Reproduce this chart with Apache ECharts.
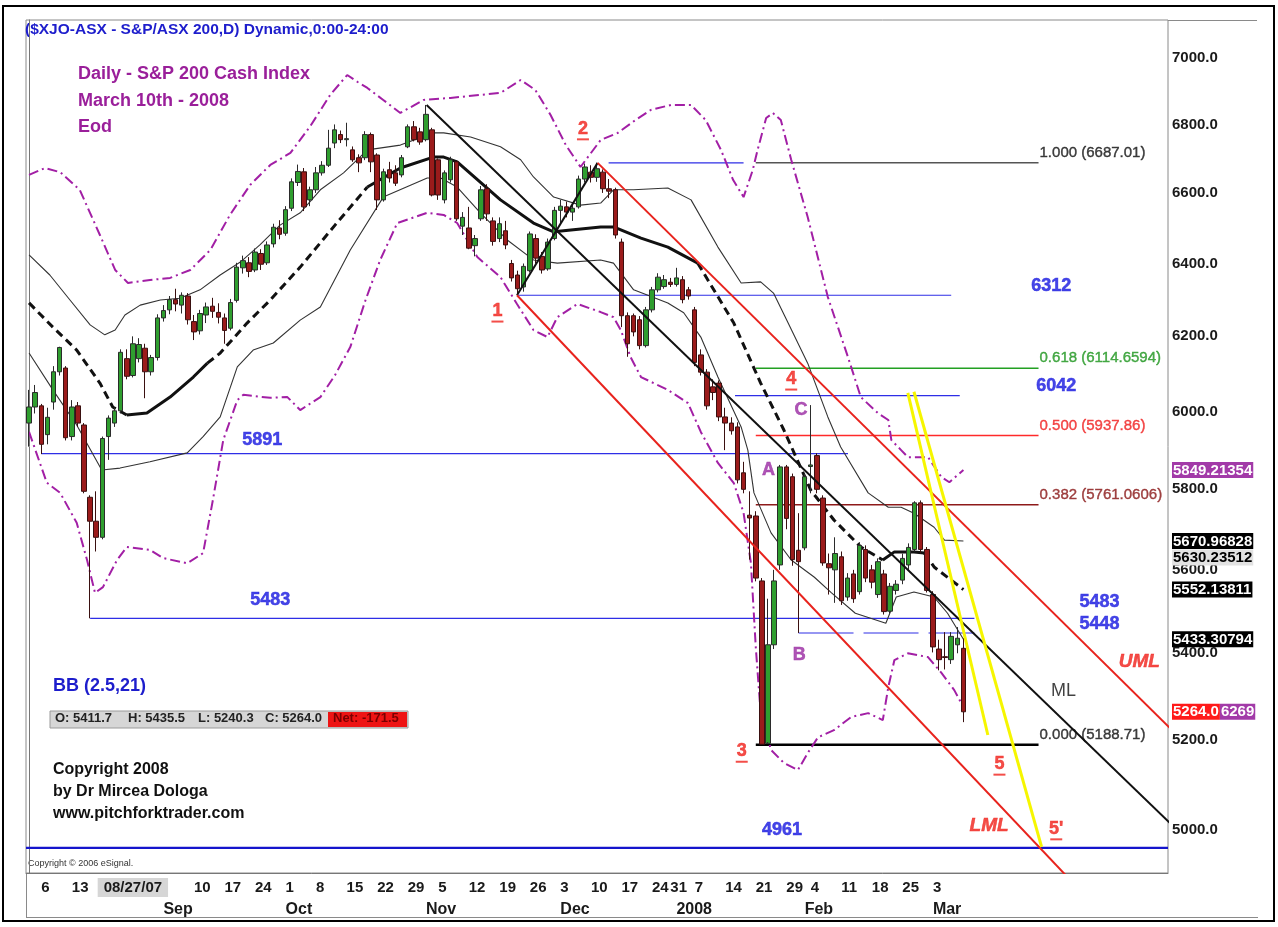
<!DOCTYPE html>
<html><head><meta charset="utf-8">
<script src="https://cdn.jsdelivr.net/npm/echarts@6/dist/echarts.min.js"></script>
<style>html,body{margin:0;padding:0;background:#fff}#c{width:1278px;height:927px}</style>
</head><body><div id="c"></div>
<script>
// ---------------- DATA ----------------
const tradingDates = [
'2007-08-02','2007-08-03','2007-08-06','2007-08-07','2007-08-08','2007-08-09','2007-08-10','2007-08-13','2007-08-14','2007-08-15','2007-08-16','2007-08-17','2007-08-20','2007-08-21','2007-08-22','2007-08-23','2007-08-24','2007-08-27','2007-08-28','2007-08-29','2007-08-30','2007-08-31',
'2007-09-03','2007-09-04','2007-09-05','2007-09-06','2007-09-07','2007-09-10','2007-09-11','2007-09-12','2007-09-13','2007-09-14','2007-09-17','2007-09-18','2007-09-19','2007-09-20','2007-09-21','2007-09-24','2007-09-25','2007-09-26','2007-09-27','2007-09-28',
'2007-10-01','2007-10-02','2007-10-03','2007-10-04','2007-10-05','2007-10-08','2007-10-09','2007-10-10','2007-10-11','2007-10-12','2007-10-15','2007-10-16','2007-10-17','2007-10-18','2007-10-19','2007-10-22','2007-10-23','2007-10-24','2007-10-25','2007-10-26','2007-10-29','2007-10-30','2007-10-31',
'2007-11-01','2007-11-02','2007-11-05','2007-11-06','2007-11-07','2007-11-08','2007-11-09','2007-11-12','2007-11-13','2007-11-14','2007-11-15','2007-11-16','2007-11-19','2007-11-20','2007-11-21','2007-11-22','2007-11-23','2007-11-26','2007-11-27','2007-11-28','2007-11-29','2007-11-30',
'2007-12-03','2007-12-04','2007-12-05','2007-12-06','2007-12-07','2007-12-10','2007-12-11','2007-12-12','2007-12-13','2007-12-14','2007-12-17','2007-12-18','2007-12-19','2007-12-20','2007-12-21','2007-12-24','2007-12-27','2007-12-28','2007-12-31',
'2008-01-02','2008-01-03','2008-01-04','2008-01-07','2008-01-08','2008-01-09','2008-01-10','2008-01-11','2008-01-14','2008-01-15','2008-01-16','2008-01-17','2008-01-18','2008-01-21','2008-01-22','2008-01-23','2008-01-24','2008-01-25','2008-01-29','2008-01-30','2008-01-31',
'2008-02-01','2008-02-04','2008-02-05','2008-02-06','2008-02-07','2008-02-08','2008-02-11','2008-02-12','2008-02-13','2008-02-14','2008-02-15','2008-02-18','2008-02-19','2008-02-20','2008-02-21','2008-02-22','2008-02-25','2008-02-26','2008-02-27','2008-02-28','2008-02-29',
'2008-03-03','2008-03-04','2008-03-05','2008-03-06','2008-03-07','2008-03-10'];
const futureDates = [
'2008-03-11','2008-03-12','2008-03-13','2008-03-14','2008-03-17','2008-03-18','2008-03-19','2008-03-20','2008-03-25','2008-03-26','2008-03-27','2008-03-28','2008-03-31',
'2008-04-01','2008-04-02','2008-04-03','2008-04-04','2008-04-07','2008-04-08','2008-04-09','2008-04-10','2008-04-11','2008-04-14','2008-04-15','2008-04-16','2008-04-17','2008-04-18','2008-04-21','2008-04-22','2008-04-23','2008-04-24','2008-04-28','2008-04-29'];

// [open, high, low, close]
const ohlc = [
[5970,6057,5909,6012],[6012,6070,5995,6050],[6015,6020,5890,5915],[5940,6010,5915,5985],[6025,6120,6005,6105],[6105,6172,6095,6170],[6115,6120,5925,5932],[5935,6030,5925,6012],[6015,6025,5960,5970],[5965,5970,5790,5795],[5780,5785,5483,5720],[5720,5795,5645,5680],[5680,5935,5675,5930],[5935,5990,5875,5983],[5970,6010,5960,6002],[6002,6165,5995,6157],[6140,6165,6085,6093],[6095,6200,6090,6180],[6140,6195,6130,6178],[6168,6180,6035,6105],[6105,6150,6095,6143],[6143,6260,6135,6250],
[6250,6285,6240,6270],[6272,6310,6260,6300],[6300,6330,6268,6288],[6285,6320,6262,6312],[6310,6318,6232,6245],[6240,6258,6190,6212],[6215,6272,6205,6262],[6258,6292,6236,6280],[6282,6305,6250,6268],[6265,6290,6235,6252],[6250,6262,6180,6216],[6222,6302,6216,6292],[6298,6402,6292,6390],[6388,6422,6372,6408],[6402,6418,6362,6378],[6382,6442,6376,6432],[6428,6440,6382,6398],[6402,6462,6396,6452],[6455,6512,6445,6502],[6500,6522,6468,6482],
[6485,6562,6478,6552],[6556,6642,6548,6632],[6630,6682,6620,6662],[6661,6672,6548,6560],[6580,6618,6562,6609],[6609,6675,6600,6658],[6658,6692,6650,6680],[6680,6784,6675,6730],[6745,6800,6730,6784],[6770,6782,6745,6755],[6755,6805,6735,6758],[6725,6735,6690,6696],[6702,6712,6660,6687],[6702,6780,6695,6770],[6770,6776,6660,6690],[6710,6715,6551,6580],[6580,6670,6575,6661],[6667,6690,6630,6643],[6658,6680,6620,6628],[6652,6710,6645,6702],[6734,6800,6730,6793],[6793,6810,6750,6755],[6778,6790,6740,6748],
[6755,6858,6750,6830],[6784,6790,6590,6594],[6696,6700,6580,6594],[6580,6665,6570,6658],[6638,6705,6630,6696],[6690,6695,6520,6526],[6505,6545,6480,6530],[6500,6560,6440,6443],[6450,6480,6420,6470],[6526,6620,6520,6609],[6612,6625,6520,6540],[6520,6530,6450,6462],[6470,6530,6460,6512],[6492,6520,6440,6452],[6400,6410,6350,6360],[6368,6380,6312,6330],[6335,6400,6322,6392],[6380,6490,6375,6483],[6470,6482,6400,6415],[6420,6432,6372,6382],[6385,6470,6380,6460],[6470,6560,6465,6550],
[6550,6580,6512,6562],[6560,6575,6530,6545],[6545,6572,6520,6556],[6560,6650,6555,6640],[6640,6685,6630,6675],[6660,6680,6630,6645],[6645,6687,6632,6670],[6660,6668,6600,6612],[6612,6640,6585,6605],[6609,6615,6470,6480],[6460,6470,6225,6256],[6256,6265,6145,6180],[6256,6262,6200,6212],[6245,6255,6165,6175],[6175,6280,6170,6272],[6272,6335,6265,6327],[6327,6373,6320,6362],[6336,6368,6330,6355],[6348,6360,6335,6342],
[6342,6388,6336,6360],[6355,6365,6290,6300],[6327,6335,6300,6310],[6272,6280,6120,6130],[6150,6165,6095,6104],[6104,6112,6005,6015],[6065,6085,6030,6050],[6075,6082,5975,5986],[5986,6010,5900,5970],[5970,5985,5940,5950],[5960,5972,5815,5824],[5842,5870,5790,5800],[5735,5795,5625,5728],[5733,5745,5572,5580],[5573,5580,5188.71,5190],[5192,5530,5195,5420],[5420,5600,5410,5573],[5612,5862,5600,5857],[5857,5862,5700,5727],[5832,5840,5610,5625],[5648,5740,5448,5620],
[5654,5840,5648,5832],[5858,6017,5790,5862],[5886,5892,5790,5800],[5778,5785,5610,5617],[5615,5640,5540,5605],[5600,5680,5520,5640],[5632,5645,5515,5525],[5534,5592,5525,5580],[5590,5600,5520,5530],[5547,5668,5540,5660],[5650,5660,5570,5580],[5600,5612,5555,5570],[5540,5628,5532,5620],[5590,5600,5492,5499],[5500,5568,5495,5560],[5550,5575,5540,5565],[5575,5640,5565,5628],[5612,5665,5600,5655],[5650,5770,5645,5766],[5766,5772,5640,5650],[5650,5656,5545,5550],
[5540,5548,5402,5415],[5410,5432,5360,5385],[5392,5450,5362,5390],[5385,5450,5375,5440],[5420,5462,5400,5435.5],[5411.7,5435.5,5240.3,5264.0]];

const yTicks = [5000,5200,5400,5600,5800,6000,6200,6400,6600,6800,7000];
const dayTickDates = ['2007-08-06','2007-08-13','2007-09-10','2007-09-17','2007-09-24','2007-10-01','2007-10-08','2007-10-15','2007-10-22','2007-10-29','2007-11-05','2007-11-12','2007-11-19','2007-11-26','2007-12-03','2007-12-10','2007-12-17','2007-12-24','2007-12-31','2008-01-07','2008-01-14','2008-01-21','2008-01-29','2008-02-04','2008-02-11','2008-02-18','2008-02-25','2008-03-03'];
const monthTickDates = ['2007-09-03','2007-10-01','2007-11-01','2007-12-03','2008-01-02','2008-02-01','2008-03-03'];
const monthTickNames = ['Sep','Oct','Nov','Dec','2008','Feb','Mar'];
const cursorDate = '2007-08-27', cursorText = '08/27/07';

// indicator lines: [bar index, price]
const upperBB = [[0,6652],[2.6,6672],[5.1,6660],[8.3,6609],[11.6,6480],[14.1,6382],[16.2,6346],[19.8,6354],[23.1,6360],[26.4,6382],[29.7,6438],[32.9,6537],[36.2,6623],[39.5,6681],[42.8,6716],[46.1,6796],[49.3,6888],[52.1,6948],[53.8,6927],[55.4,6909],[58,6873],[60.8,6834],[64.6,6873],[69,6879],[73.9,6888],[77.2,6894],[80.5,6933],[82.9,6903],[85.4,6828],[87.9,6739],[90.3,6675],[93.6,6754],[96.4,6775],[99.3,6813],[101.8,6843],[105.1,6858],[108.4,6858],[110.8,6813],[113.3,6725],[115.3,6637],[117,6588],[118.5,6666],[119.3,6725],[120.7,6819],[121.8,6834],[123.1,6813],[124.8,6696],[127.5,6531],[130.8,6307],[134.1,6144],[136.2,6038],[139,5996],[140.7,5978],[141.2,5926],[142.8,5900],[143.9,5882],[147.2,5882],[149.4,5831],[150.7,5818],[153,5849.2]];
const lowerBB = [[0,5947],[2.9,5817],[5.1,5791],[7.8,5716],[9.5,5624],[10.8,5544],[12.1,5558],[14.4,5624],[16,5656],[19.8,5649],[21.9,5629],[25.9,5616],[28.5,5641],[30.1,5773],[31.8,5926],[34.1,6030],[35.1,6044],[39.5,6036],[42.3,6038],[44.4,6004],[47.7,6038],[50.1,6096],[52.6,6171],[55.1,6299],[57.5,6410],[60.3,6514],[65.2,6543],[67.9,6537],[70.1,6514],[73.4,6418],[77.2,6362],[79.9,6288],[82.6,6217],[84.9,6198],[86.5,6252],[89.8,6288],[93.6,6266],[95.7,6252],[96.9,6217],[98.5,6144],[100.2,6091],[104.6,6057],[107.9,6022],[110,5947],[112.8,5867],[115.4,5816],[117,5741],[118.2,5617],[119,5414],[119.8,5261],[121.5,5177],[123.6,5148],[125.9,5132],[127.5,5170],[129.2,5206],[131.8,5222],[134.6,5252],[137.4,5261],[139.8,5245],[140.7,5321],[141.7,5384],[143.9,5400],[147.2,5391],[149.4,5354],[151.5,5314],[153,5275]];
const upperBand = [[0,6424],[3.4,6368],[6.7,6299],[10,6231],[12.4,6204],[14.1,6217],[15.7,6258],[18.2,6285],[21.5,6299],[24.7,6304],[28,6327],[31.3,6368],[34.6,6404],[37.8,6452],[41.1,6508],[44.4,6543],[47.7,6609],[51.5,6658],[55.4,6725],[60.8,6739],[66.2,6775],[67.9,6775],[72.3,6763],[77.2,6734],[80.5,6696],[82.6,6646],[85.9,6588],[90.3,6565],[93.6,6571],[95.7,6609],[99,6609],[104.6,6614],[108.4,6580],[112.8,6446],[116.6,6346],[119.8,6349],[121.9,6318],[124.3,6236],[127.5,6128],[130.8,5986],[132.9,5908],[137.4,5791],[140.7,5755],[142.8,5755],[144.9,5740],[148.2,5705],[149.9,5673],[153,5670.97]];
const lowerBand = [[0,6155],[3.9,6057],[7.8,5965],[11.9,5849],[14.9,5854],[19.8,5870],[25.9,5893],[28.5,5935],[31.3,5986],[34.1,6118],[36.7,6163],[40,6182],[44.4,6244],[47.7,6280],[52.6,6438],[58,6588],[65.2,6643],[67.4,6643],[70.1,6617],[73.9,6543],[78.3,6466],[82.6,6410],[86.5,6401],[93.6,6410],[95.7,6401],[99,6327],[104.6,6291],[107.2,6264],[110,6198],[112.8,6091],[116.6,5960],[117.7,5900],[118.7,5791],[121.5,5691],[124.8,5624],[128.6,5582],[131.4,5544],[135.3,5495],[140.3,5471],[142,5534],[144.9,5546],[148.2,5534],[150.4,5495],[153,5433.31]];
const midAverage = [[0,6291],[3.9,6225],[7.8,6163],[11.6,6075],[13.7,6012],[16,5991],[19.3,5996],[23.1,6038],[26.9,6091],[29.2,6128],[31.3,6155],[35.7,6236],[39.5,6299],[44.4,6390],[50.1,6508],[55.4,6617],[60.8,6672],[66.2,6704],[67.9,6704],[70.1,6690],[77.2,6580],[82.6,6514],[85.9,6489],[93.6,6503],[95.7,6503],[100.2,6471],[104.6,6446],[109.5,6401],[115.4,6236],[119.8,6075],[123.6,5952],[128,5798],[131.8,5723],[136.2,5656],[139.8,5624],[141.7,5644],[144.9,5644],[146.6,5641],[148.2,5607],[153,5552.14]];
const midSolidRanges = [[16,29.2],[55.4,109.5],[139.8,146.6]];
const midDashedRanges = [[0,16],[29.2,55.4],[109.5,139.8],[146.6,153]];

// horizontal levels: [price, from bar, to bar]
const blueLevels = [[5891,2,134.1],[5483,10,154.8],[6312,79.9,151],[6042,115.6,152.4],[6687.01,94.9,117]];
const dashedLevel = [5448,126,154.8];
const floorLevel = [4961,-0.5,186.5];
const fibLabels = ['1.000 (6687.01)','0.618 (6114.6594)','0.500 (5937.86)','0.382 (5761.0606)','0.000 (5188.71)'];
const fibValues = [6687.01,6114.6594,5937.86,5761.0606,5188.71];
const fibSpan = [119,165.3];

// pitchfork & trend lines: [[bar, price],[bar, price]]
const handleLine = [[79.9,6312],[93.1,6687.01]];
const upperMedianLine = [[93.1,6687.01],[187.1,5223]];
const lowerMedianLine = [[79.9,6312],[171,4885]];
const medianLine = [[65.1,6858],[187.1,5011]];
const yellowLine1 = [[143.9,6049],[157.0,5211]];
const yellowLine2 = [[144.9,6052],[165.8,4963]];

// annotations: [text, bar, price, kind]
const annotations = [
 ['1',76.7,6266,'pivot'],['2',90.7,6784,'pivot'],['3',116.7,5172,'pivot'],['4',124.8,6083,'pivot'],['5',158.9,5143,'pivot'],["5'",168.2,5000,'pivot'],
 ['A',121.1,5849,'abc'],['B',126.1,5396,'abc'],['C',126.4,6004,'abc'],
 ['5891',38.2,5926,'level'],['5483',39.5,5527,'level'],['6312',167.4,6338,'level'],['6042',168.2,6068,'level'],['5483',175.3,5522,'level'],['5448',175.3,5469,'level'],['4961',123.3,5000,'level'],
 ['UML',181.8,5380,'fork'],['LML',157.2,5008,'fork'],['ML',169.4,5312,'ml']];

// price flags on the right axis
const flagValues = [5849.21354,5670.96828,5630.23512,5552.13811,5433.30794,5264.0];
const flagTexts = ['5849.21354','5670.96828','5630.23512','5552.13811','5433.30794','5264.0'];
const flagKinds = ['purple','black','gray','black','black','red'];
const flagSuffix = ['','','','','','6269'];

// ---------------- CHART ----------------
const F = 'Arial, "Liberation Sans", Helvetica, sans-serif';
const cats = tradingDates.concat(futureDates);
const N = cats.length;
const daySet = new Set(dayTickDates);
const monthMap = {}; monthTickDates.forEach((d,i)=>monthMap[d]=monthTickNames[i]);

const chart = echarts.init(document.getElementById('c'));
const series = [];

series.push({
  type:'candlestick', xAxisIndex:0, yAxisIndex:0, barWidth:5,
  data: ohlc.map(r=>[r[0],r[3],r[2],r[1]]),
  itemStyle:{color:'#2f9e2f', color0:'#9b1b1b', borderColor:'#2b2b2b', borderColor0:'#3a1010', borderWidth:1},
  z:5
});

function lineSeries(data, style, z){
  return {type:'line', xAxisIndex:3, yAxisIndex:0, data, symbol:'none', silent:true, lineStyle:style, z:z||3, animation:false};
}
const purple = '#a21fa5';
series.push(lineSeries(upperBB,{color:purple,width:2,type:[10,4,2,4]},4));
series.push(lineSeries(lowerBB,{color:purple,width:2,type:[10,4,2,4]},4));
series.push(lineSeries(upperBand,{color:'#333',width:1.1},4));
series.push(lineSeries(lowerBand,{color:'#333',width:1.1},4));
function seg(r){ return midAverage.filter(p=>p[0]>=r[0]-1e-9 && p[0]<=r[1]+1e-9); }
midSolidRanges.forEach(r=>series.push(lineSeries(seg(r),{color:'#111',width:3},4)));
midDashedRanges.forEach(r=>series.push(lineSeries(seg(r),{color:'#111',width:3,type:[8,5]},4)));

blueLevels.forEach(l=>series.push(lineSeries([[l[1],l[0]],[l[2],l[0]]],{color:'#2e2ee6',width:1.2},3)));
series.push(lineSeries([[dashedLevel[1],dashedLevel[0]],[dashedLevel[2],dashedLevel[0]]],{color:'#2e2ee6',width:1.2,type:[55,10]},3));
series.push(lineSeries([[floorLevel[1],floorLevel[0]],[floorLevel[2],floorLevel[0]]],{color:'#1515cc',width:2.2},3));
const fibColors = ['#555555','#22a022','#ff2a2a','#8e1a1a','#000000'];
const fibTextColors = ['#111111','#1f961f','#f02020','#8a1616','#111111'];
const fibWidths = [1.5,1.5,1.5,1.5,2.5];
fibValues.forEach((v,i)=>series.push(lineSeries([[fibSpan[0],v],[fibSpan[1],v]],{color:fibColors[i],width:fibWidths[i]},3)));

series.push(lineSeries(handleLine,{color:'#111',width:2},6));
series.push(lineSeries(medianLine,{color:'#111',width:2},6));
series.push(lineSeries(upperMedianLine,{color:'#e8231d',width:2},6));
series.push(lineSeries(lowerMedianLine,{color:'#e8231d',width:2},6));
series.push(lineSeries(yellowLine1,{color:'#f6f600',width:3},6));
series.push(lineSeries(yellowLine2,{color:'#f6f600',width:3},6));

// fib labels
series.push({type:'scatter', xAxisIndex:3, yAxisIndex:0, symbolSize:0, silent:true, z:8,
  data: fibValues.map((v,i)=>({value:[fibSpan[1],v], name:fibLabels[i],
    label:{show:true, position:'right', distance:1, offset:[0,-10], formatter:'{b}', color:fibTextColors[i],
      textBorderColor:fibTextColors[i], textBorderWidth:0.4, fontFamily:F, fontSize:15}}))});

// annotations
function txt(color, size, extra){ return Object.assign({show:true, position:'inside', color, fontSize:size, fontWeight:'bold', fontFamily:F, textBorderColor:color, textBorderWidth:0.5}, extra||{}); }
const annoStyle = {
  pivot: t=>({show:true, position:'inside', formatter:`{t|${t}}\n{u|}`, rich:{t:{fontSize:18,fontWeight:'bold',color:'#f0201a',fontFamily:F,lineHeight:19,textBorderColor:'#f0201a',textBorderWidth:0.5},u:{width:12,height:2,backgroundColor:'#f0201a'}}}),
  abc: t=>txt('#9a2aa3',18,{formatter:t}),
  level: t=>txt('#1616e0',18,{formatter:t}),
  fork: t=>txt('#f0201a',19,{formatter:t, fontStyle:'italic'}),
  ml: t=>({show:true, position:'inside', formatter:t, fontSize:18, color:'#111', fontFamily:F})
};
series.push({type:'scatter', xAxisIndex:3, yAxisIndex:0, symbolSize:0, silent:true, z:9,
  data: annotations.map(a=>({value:[a[1],a[2]], label:annoStyle[a[3]](a[0])}))});

// right axis flag styles
const flagRich = {
  purple:{backgroundColor:'#a23aa8', color:'#fff'},
  black:{backgroundColor:'#000', color:'#fff'},
  gray:{backgroundColor:'#e2e2e2', color:'#000'},
  red:{backgroundColor:'#ff1a1a', color:'#fff'},
  sfx:{backgroundColor:'#a23aa8', color:'#fff'}
};
Object.keys(flagRich).forEach(k=>Object.assign(flagRich[k],{fontFamily:F,fontSize:15,fontWeight:'bold',padding:[1,1,0,1],lineHeight:17}));
function flagFormatter(v){
  let best=-1, bd=Infinity;
  flagValues.forEach((f,i)=>{const d=Math.abs(f-v); if(d<bd){bd=d;best=i;}});
  if(best<0 || bd>0.5) return '';
  const k = flagKinds[best];
  return `{${k}|${flagTexts[best]}}` + (flagSuffix[best] ? `{sfx|${flagSuffix[best]}}` : '');
}

const last = ohlc[ohlc.length-1], prevClose = ohlc[ohlc.length-2][3];
const netText = 'Net: ' + (last[3]-prevClose).toFixed(1);

const option = {
  animation:false,
  backgroundColor:'#fff',
  grid:{left:26, right:110, top:20, bottom:54, show:true, borderColor:'#8a8a8a', borderWidth:1, containLabel:false},
  xAxis:[
    {type:'category', data:cats, boundaryGap:true, position:'bottom', axisLine:{show:true,lineStyle:{color:'#777'}}, axisTick:{show:false}, splitLine:{show:false},
     axisLabel:{interval:(i,v)=>daySet.has(v), formatter:v=>String(+v.slice(8)), align:'left', margin:7, fontFamily:F, fontSize:15, fontWeight:'bold', color:'#1a1a1a'}},
    {type:'category', data:cats, boundaryGap:true, position:'bottom', offset:22, axisLine:{show:false}, axisTick:{show:false},
     axisLabel:{interval:(i,v)=>v in monthMap, formatter:v=>monthMap[v]||'', align:'left', margin:7, fontFamily:F, fontSize:16, fontWeight:'bold', color:'#1a1a1a'}},
    {type:'category', data:cats, boundaryGap:true, position:'bottom', axisLine:{show:false}, axisTick:{show:false},
     axisLabel:{interval:(i,v)=>v===cursorDate, formatter:()=>'{c|'+cursorText+'}', margin:5, rich:{c:{backgroundColor:'#d6d6d6', padding:[2,6,2,6], fontFamily:F, fontSize:15, fontWeight:'bold', color:'#1a1a1a'}}}},
    {type:'value', min:-0.5, max:N-0.5, show:false}
  ],
  yAxis:[
    {type:'log', logBase:10, min:4906.8, max:7116.7, position:'right',
     axisLine:{show:true, lineStyle:{color:'#777'}}, axisTick:{show:false}, splitLine:{show:false},
     axisLabel:{customValues:yTicks, formatter:v=>Number(v).toFixed(1), margin:4, fontFamily:F, fontSize:15, fontWeight:'bold', color:'#1a1a1a'}},
    {type:'log', logBase:10, min:4906.8, max:7116.7, position:'right', z:5,
     axisLine:{show:false}, axisTick:{show:false}, splitLine:{show:false},
     axisLabel:{customValues:flagValues, formatter:flagFormatter, margin:4, rich:flagRich}}
  ],
  series,
  graphic:[
    {type:'rect', shape:{x:3,y:6,width:1271,height:915}, style:{fill:null, stroke:'#000', lineWidth:2}, silent:true},
    {type:'line', shape:{x1:1168,y1:20.5,x2:1257,y2:20.5}, style:{stroke:'#8a8a8a', lineWidth:1}, silent:true},
    {type:'line', shape:{x1:26,y1:917.5,x2:1258,y2:917.5}, style:{stroke:'#8a8a8a', lineWidth:1}, silent:true},
    {type:'line', shape:{x1:26.5,y1:873,x2:26.5,y2:918}, style:{stroke:'#8a8a8a', lineWidth:1}, silent:true},
    {type:'text', left:25, top:22, style:{text:'($XJO-ASX - S&P/ASX 200,D) Dynamic,0:00-24:00', font:'bold 15.5px '+F, fill:'#1d1dcc'}},
    {type:'text', left:78, top:61, style:{text:'Daily - S&P 200 Cash Index\nMarch 10th - 2008\nEod', font:'bold 18px '+F, fill:'#9a1f9a', lineHeight:26.5}},
    {type:'text', left:53, top:677, style:{text:'BB (2.5,21)', font:'bold 18px '+F, fill:'#1d1dcc'}},
    {type:'rect', shape:{x:50,y:711,width:358,height:17}, style:{fill:'#d6d6d6', stroke:'#9a9a9a', lineWidth:1}, silent:true},
    {type:'rect', shape:{x:328,y:712,width:79,height:15}, style:{fill:'#ee1414'}, silent:true},
    {type:'text', left:55, top:712, style:{text:'O: '+last[0].toFixed(1), font:'bold 13px '+F, fill:'#222'}},
    {type:'text', left:128, top:712, style:{text:'H: '+last[1].toFixed(1), font:'bold 13px '+F, fill:'#222'}},
    {type:'text', left:198, top:712, style:{text:'L: '+last[2].toFixed(1), font:'bold 13px '+F, fill:'#222'}},
    {type:'text', left:265, top:712, style:{text:'C: '+last[3].toFixed(1), font:'bold 13px '+F, fill:'#222'}},
    {type:'text', left:333, top:712, style:{text:netText, font:'bold 13px '+F, fill:'#7a0000'}},
    {type:'text', left:53, top:759, style:{text:'Copyright 2008\nby Dr Mircea Dologa\nwww.pitchforktrader.com', font:'bold 16px '+F, fill:'#111', lineHeight:22}},
    {type:'text', left:28, top:859, style:{text:'Copyright \u00a9 2006 eSignal.', font:'9px '+F, fill:'#333'}}
  ]
};
chart.setOption(option);
</script>
</body></html>
